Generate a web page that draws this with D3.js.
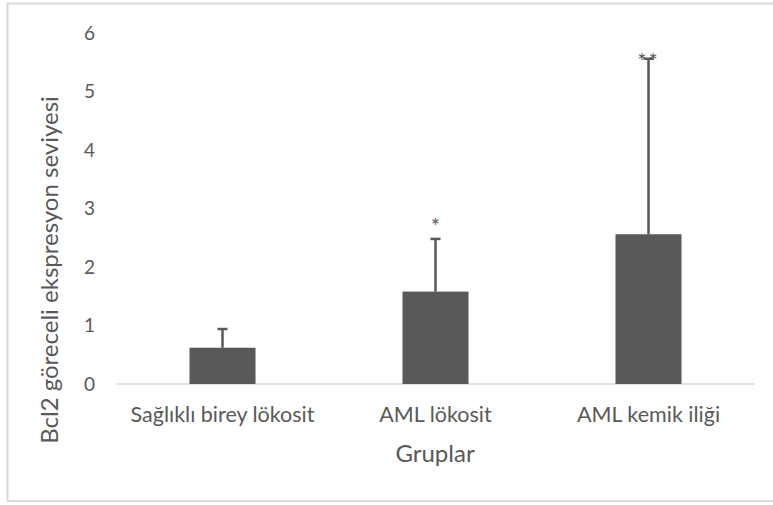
<!DOCTYPE html>
<html>
<head>
<meta charset="utf-8">
<script src="https://cdn.jsdelivr.net/npm/d3@7"></script>
<style>
  html, body { margin: 0; padding: 0; background: #fff; }
  svg { display: block; }
  text { font-family: Lato, "Open Sans", sans-serif; fill: #595959; }
</style>
</head>
<body>
<script>
// Bcl2 relative expression per group, mean with upper error bar
const categories = ["Sağlıklı birey lökosit", "AML lökosit", "AML kemik iliği"];
const means = [0.62, 1.58, 2.56];
const upperErrors = [0.32, 0.90, 3.00];
const significance = ["", "*", "**"];
const yTicks = [0, 1, 2, 3, 4, 5, 6];

const W = 773, H = 505;
const svg = d3.select("body").append("svg").attr("width", W).attr("height", H);

// outer chart frame
svg.append("rect")
  .attr("x", 7.5).attr("y", 3.5).attr("width", W).attr("height", 497.5)
  .attr("fill", "none").attr("stroke", "#d9d9d9").attr("stroke-width", 2);

const x = d3.scaleBand().domain(categories).range([116, 755]).paddingInner(0.69).paddingOuter(0.345);
const y = d3.scaleLinear().domain([0, 6]).range([384, 33]);

// y tick labels (no axis line)
const yAxis = d3.axisLeft(y).tickValues(yTicks).tickFormat(d3.format("d")).tickSize(0).tickPadding(0);
const gy = svg.append("g").attr("transform", "translate(95,0)").call(yAxis);
gy.select(".domain").remove();
gy.selectAll("text").attr("font-size", 19).attr("fill", "#595959")
  .style("font-family", "Lato, 'Open Sans', sans-serif");

// category axis baseline
const xAxis = d3.axisBottom(x).tickSize(0).tickPadding(23);
const gx = svg.append("g").attr("transform", "translate(0,384)").call(xAxis);
gx.select(".domain").attr("stroke", "#d9d9d9").attr("stroke-width", 1.5)
  .attr("d", "M116,0H755");
gx.selectAll("text").attr("font-size", 21.5).attr("fill", "#595959")
  .style("font-family", "Lato, 'Open Sans', sans-serif");

const data = categories.map((c, i) => ({ c, m: means[i], e: upperErrors[i], s: significance[i] }));

// bars
svg.append("g").selectAll("rect").data(data).join("rect")
  .attr("x", d => x(d.c)).attr("width", x.bandwidth())
  .attr("y", d => y(d.m)).attr("height", d => y(0) - y(d.m))
  .attr("fill", "#595959");

// upper error bars
const eb = svg.append("g").attr("stroke", "#595959").attr("stroke-width", 2.5);
eb.selectAll("line.v").data(data).join("line").attr("class", "v")
  .attr("x1", d => x(d.c) + x.bandwidth() / 2).attr("x2", d => x(d.c) + x.bandwidth() / 2)
  .attr("y1", d => y(d.m)).attr("y2", d => y(d.m + d.e));
eb.selectAll("line.cap").data(data).join("line").attr("class", "cap")
  .attr("x1", d => x(d.c) + x.bandwidth() / 2 - 5).attr("x2", d => x(d.c) + x.bandwidth() / 2 + 5)
  .attr("y1", d => y(d.m + d.e)).attr("y2", d => y(d.m + d.e));

// significance markers
svg.append("g").selectAll("text").data(data.filter(d => d.s)).join("text")
  .attr("x", d => x(d.c) + x.bandwidth() / 2)
  .attr("y", d => d.s === "**" ? y(d.m + d.e) + 10 : y(d.m + d.e) - 5)
  .attr("text-anchor", "middle").attr("font-size", 22).attr("fill", "#7f7f7f")
  .attr("letter-spacing", d => d.s === "**" ? 2 : 0)
  .text(d => d.s);

// axis titles
svg.append("text").attr("x", 435).attr("y", 462).attr("text-anchor", "middle")
  .attr("font-size", 24).text("Gruplar");
svg.append("text").attr("transform", "translate(58,270) rotate(-90)").attr("text-anchor", "middle")
  .attr("font-size", 24).text("Bcl2 göreceli ekspresyon seviyesi");
</script>
</body>
</html>
